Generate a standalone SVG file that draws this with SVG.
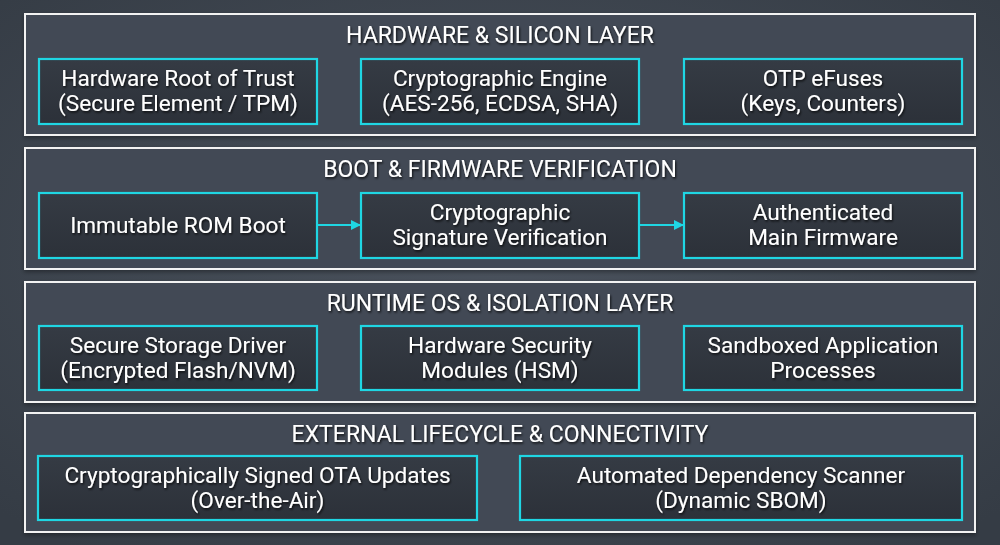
<svg xmlns="http://www.w3.org/2000/svg" width="1000" height="545" viewBox="0 0 1000 545">
<defs>
<radialGradient id="bg" cx="50%" cy="45%" r="70%">
<stop offset="0" stop-color="#4a525d"/>
<stop offset="1" stop-color="#353c45"/>
</radialGradient>
<linearGradient id="node" x1="0" y1="0" x2="0" y2="1">
<stop offset="0" stop-color="#353b44"/>
<stop offset="1" stop-color="#2c3139"/>
</linearGradient>
<filter id="ts" x="-10%" y="-30%" width="120%" height="160%">
<feDropShadow dx="1" dy="1.5" stdDeviation="1" flood-color="#000" flood-opacity="0.8"/>
</filter>
<filter id="ls" x="-5%" y="-10%" width="110%" height="120%">
<feDropShadow dx="0" dy="2" stdDeviation="2" flood-color="#000" flood-opacity="0.35"/>
</filter>
<marker id="arr" markerWidth="10" markerHeight="10" refX="9" refY="5" orient="auto" markerUnits="userSpaceOnUse">
<path d="M0,0 L10,5 L0,10 Z" fill="#1fd6e3"/>
</marker>
</defs>
<style>
.layer{fill:#424a54;stroke:#f2f2f2;stroke-width:2}
.box{fill:url(#node);stroke:#1fd6e3;stroke-width:2.2}
text{font-family:Roboto,"Liberation Sans",sans-serif;fill:#ffffff;text-anchor:middle;filter:url(#ts)}
.t{font-size:23px}
.n{font-size:22.6px}
.conn{stroke:#1fd6e3;stroke-width:2;fill:none}
</style>
<rect width="1000" height="545" fill="url(#bg)"/>

<g id="layer-hardware">
<rect class="layer" x="25" y="14" width="950" height="121" filter="url(#ls)"/>
<text class="t" x="500" y="43">HARDWARE &amp; SILICON LAYER</text>
</g>
<g id="node-rot">
<rect class="box" x="39" y="59" width="278" height="65"/>
<text class="n" x="178" y="86">Hardware Root of Trust</text>
<text class="n" x="178" y="111">(Secure Element / TPM)</text>
</g>
<g id="node-crypto-engine">
<rect class="box" x="361" y="59" width="278" height="65"/>
<text class="n" x="500" y="86">Cryptographic Engine</text>
<text class="n" x="500" y="111">(AES-256, ECDSA, SHA)</text>
</g>
<g id="node-otp">
<rect class="box" x="684" y="59" width="278" height="65"/>
<text class="n" x="823" y="86">OTP eFuses</text>
<text class="n" x="823" y="111">(Keys, Counters)</text>
</g>

<g id="layer-boot">
<rect class="layer" x="25" y="148" width="950" height="121" filter="url(#ls)"/>
<text class="t" x="500" y="177">BOOT &amp; FIRMWARE VERIFICATION</text>
</g>
<g id="node-rom">
<rect class="box" x="39" y="193" width="278" height="65"/>
<text class="n" x="178" y="233">Immutable ROM Boot</text>
</g>
<g id="node-sigver">
<rect class="box" x="361" y="193" width="278" height="65"/>
<text class="n" x="500" y="220">Cryptographic</text>
<text class="n" x="500" y="245">Signature Verification</text>
</g>
<g id="node-mainfw">
<rect class="box" x="684" y="193" width="278" height="65"/>
<text class="n" x="823" y="220">Authenticated</text>
<text class="n" x="823" y="245">Main Firmware</text>
</g>

<g id="layer-runtime">
<rect class="layer" x="25" y="282" width="950" height="120" filter="url(#ls)"/>
<text class="t" x="500" y="311">RUNTIME OS &amp; ISOLATION LAYER</text>
</g>
<g id="node-storage">
<rect class="box" x="39" y="326" width="278" height="64"/>
<text class="n" x="178" y="353">Secure Storage Driver</text>
<text class="n" x="178" y="378">(Encrypted Flash/NVM)</text>
</g>
<g id="node-hsm">
<rect class="box" x="361" y="326" width="278" height="64"/>
<text class="n" x="500" y="353">Hardware Security</text>
<text class="n" x="500" y="378">Modules (HSM)</text>
</g>
<g id="node-sandbox">
<rect class="box" x="684" y="326" width="278" height="64"/>
<text class="n" x="823" y="353">Sandboxed Application</text>
<text class="n" x="823" y="378">Processes</text>
</g>

<g id="layer-external">
<rect class="layer" x="25" y="413" width="950" height="119" filter="url(#ls)"/>
<text class="t" x="500" y="442">EXTERNAL LIFECYCLE &amp; CONNECTIVITY</text>
</g>
<g id="node-ota">
<rect class="box" x="38" y="456" width="439" height="64"/>
<text class="n" x="257.500" y="483">Cryptographically Signed OTA Updates</text>
<text class="n" x="257.500" y="508">(Over-the-Air)</text>
</g>
<g id="node-sbom">
<rect class="box" x="520" y="456" width="442" height="64"/>
<text class="n" x="741" y="483">Automated Dependency Scanner</text>
<text class="n" x="741" y="508">(Dynamic SBOM)</text>
</g>

<g id="connectors">
<line class="conn" x1="317" y1="225" x2="360" y2="225" marker-end="url(#arr)"/>
<line class="conn" x1="639" y1="225" x2="683" y2="225" marker-end="url(#arr)"/>
</g>
</svg>
